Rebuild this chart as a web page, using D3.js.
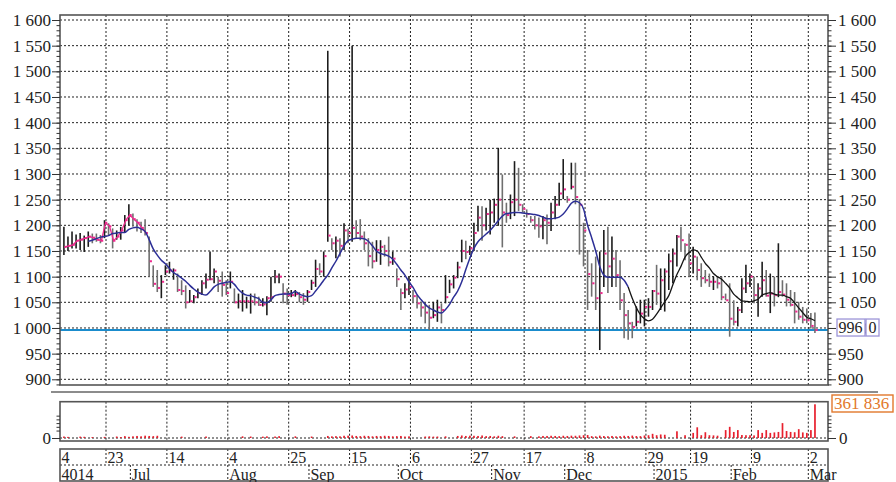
<!DOCTYPE html>
<html><head><meta charset="utf-8">
<script src="https://cdn.jsdelivr.net/npm/d3@7"></script>
<style>
body{margin:0;background:#fff}
text{font-family:"Liberation Serif","Times New Roman",serif;font-size:17px;fill:#222}
</style>
</head><body>
<svg id="c" width="896" height="482"></svg>
<script>
// ---------- DATA ----------
const calStart = "2014-06-04", calEnd = "2015-03-10";
const holidays = ["2014-06-12","2014-11-03","2014-11-04","2014-12-31","2015-01-01","2015-01-02","2015-01-07","2015-02-23"];
const firstIdx = 2;   // first trading-day index with a bar
const high = [
1197,1178,1188,1182,1185,1180,1188,1184,1184,1181,
1210,1204,1194,1190,1197,1220,1241,1223,1212,1207,
1212,1178,1122,1113,1103,1122,1129,1116,1106,1093,
1083,1074,1064,1077,1093,1106,1149,1116,1100,1110,
1093,1110,1077,1067,1074,1061,1067,1067,1061,1058,
1062,1100,1113,1106,1087,1077,1074,1074,1070,1068,
1074,1094,1133,1126,1149,1540,1175,1178,1175,1204,
1194,1550,1210,1212,1188,1175,1168,1171,1171,1162,
1178,1149,1116,1077,1087,1100,1074,1064,1051,1049,
1045,1051,1055,1048,1103,1094,1103,1129,1172,1170,
1160,1205,1238,1237,1234,1250,1252,1351,1299,1244,
1260,1325,1312,1241,1231,1218,1218,1215,1218,1221,
1244,1257,1283,1329,1257,1322,1322,1251,1205,1152,
1126,1139,1149,1191,1197,1178,1152,1132,1068,1035,
1012,1042,1055,1055,1058,1074,1123,1116,1116,1145,
1155,1181,1197,1165,1184,1158,1139,1126,1113,1106,
1100,1100,1100,1067,1087,1054,1041,1097,1123,1106,
1100,1087,1129,1113,1106,1100,1165,1093,1087,1074,
1070,1051,1041,1038,1029,1030];
const low = [
1142,1150,1155,1155,1152,1148,1158,1165,1168,1165,
1175,1180,1155,1172,1172,1185,1200,1197,1188,1185,
1180,1100,1080,1070,1058,1103,1106,1094,1070,1064,
1038,1050,1048,1058,1064,1077,1093,1087,1070,1061,
1064,1077,1048,1038,1032,1038,1028,1044,1043,1042,
1025,1051,1087,1087,1048,1045,1060,1061,1050,1045,
1051,1074,1080,1103,1100,1168,1152,1136,1139,1152,
1165,1168,1175,1171,1152,1120,1116,1129,1123,1139,
1120,1123,1080,1035,1058,1064,1048,1038,1022,1009,
996,1019,1012,1009,1048,1068,1077,1097,1128,1134,
1142,1150,1188,1170,1190,1182,1205,1199,1157,1205,
1212,1218,1228,1225,1215,1205,1192,1176,1173,1163,
1189,1212,1238,1251,1244,1270,1241,1143,1120,1035,
1061,1035,957,1080,1068,1080,1080,1035,980,977,
980,1003,1009,1003,1022,1035,1045,1035,1032,1074,
1087,1120,1152,1132,1100,1106,1093,1080,1087,1080,
1074,1077,1054,1054,983,1005,1003,1029,1068,1080,
1048,1022,1061,1061,1029,1042,1060,1061,1042,1042,
1009,1016,1009,1009,999,990];
const close = [
1158,1160,1162,1170,1172,1175,1178,1176,1172,1170,
1205,1198,1170,1178,1190,1210,1220,1212,1205,1195,
1185,1130,1086,1078,1090,1110,1112,1112,1074,1072,
1050,1052,1060,1068,1087,1094,1095,1110,1092,1084,
1068,1090,1050,1052,1052,1052,1052,1050,1045,1046,
1058,1060,1100,1100,1067,1064,1064,1066,1060,1055,
1070,1088,1115,1110,1140,1180,1165,1170,1160,1190,
1185,1195,1185,1178,1165,1140,1130,1152,1158,1150,
1128,1135,1095,1068,1075,1080,1062,1048,1040,1030,
1020,1025,1040,1035,1060,1085,1098,1118,1150,1148,
1155,1185,1215,1200,1222,1225,1240,1250,1225,1220,
1245,1250,1240,1232,1222,1210,1200,1198,1210,1205,
1225,1240,1262,1270,1250,1275,1255,1240,1190,1105,
1087,1058,1068,1145,1120,1135,1103,1054,1025,1009,
1002,1012,1028,1041,1041,1072,1067,1093,1110,1130,
1145,1178,1171,1162,1126,1139,1113,1097,1093,1090,
1090,1087,1060,1054,1018,1012,1035,1077,1087,1100,
1064,1077,1093,1063,1067,1064,1070,1065,1055,1045,
1032,1022,1016,1015,1004,996];
const maStart = 8;
const movingAvg = [
1169,1171,1174,1177,1178,1180,1184,1185,1186,1186,
1192,1195,1196,1193,1188,1172,1154,1142,1132,1125,
1116,1108,1103,1097,1091,1083,1076,1070,1066,1064,
1071,1080,1085,1087,1089,1090,1085,1075,1068,1064,
1063,1060,1057,1050,1049,1055,1063,1065,1066,1066,
1067,1071,1066,1063,1061,1063,1072,1082,1093,1103,
1117,1130,1145,1160,1170,1173,1175,1175,1174,1169,
1160,1150,1145,1143,1140,1134,1124,1113,1103,1090,
1079,1065,1055,1046,1039,1035,1031,1029,1036,1046,
1060,1072,1090,1114,1136,1155,1168,1176,1183,1190,
1199,1209,1218,1223,1224,1225,1225,1224,1223,1222,
1221,1219,1216,1213,1213,1214,1216,1222,1232,1243,
1247,1244,1232,1200,1176,1150,1120,1103,1099,1099,
1099,1099,1093,1080,1058,1040,1026,1018,1014,1017,
1027,1039,1051,1063,1084,1104,1120,1138,1147,1152,
1150,1138,1126,1117,1106,1100,1095,1087,1078,1066,
1059,1053,1052,1051,1053,1056,1064,1067,1069,1066,
1064,1064,1061,1058,1049,1039,1030,1021,1018,1014];
const maBlueEnd = 141;     // MA drawn blue up to this index, black after
const pinkLineEnd = 22;    // early closes joined by a pink line
const volume = [
16000,12000,0,0,15000,13000,0,10000,0,0,
12000,0,0,16000,10000,20000,13000,18000,22000,18000,
25000,22000,20000,24000,0,0,0,0,0,15000,
0,0,0,0,0,16000,0,0,0,0,
0,0,0,0,18000,0,16000,0,0,15000,
18000,0,16000,20000,0,0,0,18000,0,0,
0,16000,0,0,0,22000,18000,20000,18000,24000,
25000,27000,22000,20000,24000,22000,18000,22000,20000,24000,
22000,18000,20000,22000,16000,18000,0,0,0,16000,
18000,15000,16000,0,18000,0,0,22000,27000,22000,
25000,24000,22000,27000,20000,22000,18000,24000,20000,0,
0,18000,0,0,0,20000,0,18000,22000,22000,
24000,22000,20000,24000,22000,25000,24000,27000,30000,32000,
20000,18000,25000,21000,19000,22000,18000,20000,24000,22000,
26000,21000,20000,27000,30000,45000,30000,38000,35000,0,
0,72000,0,30000,0,55000,115000,30000,62000,30000,
28000,25000,0,85000,120000,65000,85000,32000,30000,30000,
28000,85000,55000,85000,55000,60000,65000,160000,75000,65000,
62000,95000,60000,55000,85000,361836];
const lastPrice = 996;
const sideValue = 0;
const priceTicks = [900,950,1000,1050,1100,1150,1200,1250,1300,1350,1400,1450,1500,1550,1600];
const dayTicks = [["2014-06-23","23"],["2014-07-14","14"],["2014-08-04","4"],["2014-08-25","25"],
  ["2014-09-15","15"],["2014-10-06","6"],["2014-10-27","27"],["2014-11-17","17"],["2014-12-08","8"],
  ["2014-12-29","29"],["2015-01-19","19"],["2015-02-09","9"],["2015-03-02","2"]];
const firstDayLabel = "4";
const firstMonthLabel = "4014";
const monthTicks = [["2014-07-01","Jul"],["2014-08-04","Aug"],["2014-09-01","Sep"],["2014-10-01","Oct"],
  ["2014-11-01","Nov"],["2014-12-01","Dec"],["2015-01-01","2015"],["2015-02-01","Feb"],["2015-03-01","Mar"]];

[high,low,close,volume].forEach(a=>{ if(a.length!==186) throw new Error("len "+a.length); });
if(movingAvg.length!==180) throw new Error("ma len "+movingAvg.length);

// ---------- CALENDAR ----------
const parse = d3.timeParse("%Y-%m-%d"), key = d3.timeFormat("%Y-%m-%d");
const calendar = d3.timeDay.range(parse(calStart), d3.timeDay.offset(parse(calEnd),1))
  .filter(d => d.getDay()!==0 && d.getDay()!==6 && !holidays.includes(key(d)));
const idxOf = s => calendar.findIndex(d => key(d) >= s);

// ---------- SCALES ----------
const L=60, R=828, T=15, B=385;
const x = d3.scaleLinear().domain([idxOf("2014-06-23"), idxOf("2015-03-02")]).range([106, 808.3]);
const bx = i => x(i) - 1.5;
const y = d3.scaleLinear().domain([1600, 900]).range([20, 379.3]);
const VT=401.7, VB=441, V0=438;
const vy = d3.scaleLinear().domain([0, 361836]).range([V0, 404.3]);

const svg = d3.select("#c");
const loc = d3.formatLocale({decimal:".", thousands:"\u00a0", grouping:[3], currency:["",""]});
const fmt = loc.format(",");

svg.append("defs").append("clipPath").attr("id","plot")
  .append("rect").attr("x",L).attr("y",T).attr("width",R-L).attr("height",B-T);

const grid = svg.append("g").attr("stroke","#222").attr("stroke-width",1).attr("stroke-dasharray","2,2");
grid.selectAll(".h").data(priceTicks).join("line")
  .attr("x1",L).attr("x2",R).attr("y1",d=>y(d)).attr("y2",d=>y(d));
const dayIdx = dayTicks.map(d=>[idxOf(d[0]), d[1]]);
grid.selectAll(".v").data(dayIdx).join("line")
  .attr("x1",d=>x(d[0])).attr("x2",d=>x(d[0])).attr("y1",T).attr("y2",B);
grid.selectAll(".vv").data(dayIdx).join("line")
  .attr("x1",d=>x(d[0])).attr("x2",d=>x(d[0])).attr("y1",VT).attr("y2",VB);
grid.append("line").attr("x1",L).attr("x2",R).attr("y1",V0).attr("y2",V0);

// ---------- PRICE PANEL ----------
const plot = svg.append("g").attr("clip-path","url(#plot)");
const idx = d3.range(firstIdx, firstIdx + close.length);
const k = i => i - firstIdx;

plot.append("line").attr("x1",L).attr("x2",R).attr("y1",y(lastPrice)).attr("y2",y(lastPrice))
  .attr("stroke","#1a8ccd").attr("stroke-width",2.2);

plot.selectAll(".bar").data(idx).join("line")
  .attr("x1",i=>bx(i)).attr("x2",i=>bx(i))
  .attr("y1",i=>y(high[k(i)])).attr("y2",i=>y(low[k(i)]))
  .attr("stroke",i=> (i>firstIdx && close[k(i)]<close[k(i)-1]) ? "#6f6f6f" : "#1c1c1c")
  .attr("stroke-width",1.6);

const pinkIdx = idx.filter(i=>i<=pinkLineEnd);
plot.append("path").datum(pinkIdx)
  .attr("d", d3.line().x(i=>bx(i)+1).y(i=>y(close[k(i)])))
  .attr("fill","none").attr("stroke","#ee2a8e").attr("stroke-width",1.3);

plot.selectAll(".cl").data(idx).join("rect")
  .attr("x",i=>bx(i)+0.6).attr("y",i=>y(close[k(i)])-1).attr("width",2.2).attr("height",2)
  .attr("fill","#ee2a8e");

const maIdx = d3.range(maStart, maStart + movingAvg.length);
const maLine = d3.line().x(i=>bx(i)).y(i=>y(movingAvg[i-maStart])).curve(d3.curveMonotoneX);
plot.append("path").datum(maIdx.filter(i=>i>=maBlueEnd))
  .attr("d",maLine).attr("fill","none").attr("stroke","#151515").attr("stroke-width",1.3);
plot.append("path").datum(maIdx.filter(i=>i<=maBlueEnd))
  .attr("d",maLine).attr("fill","none").attr("stroke","#2c2f96").attr("stroke-width",1.5);

svg.append("rect").attr("x",L).attr("y",T).attr("width",R-L).attr("height",B-T)
  .attr("fill","none").attr("stroke","#555").attr("stroke-width",1.6);

// price axes
const minor = d3.range(890, 1610, 10);
const la = svg.append("g").attr("transform",`translate(${L},0)`);
la.call(d3.axisLeft(y).tickValues(minor).tickSize(3.5).tickFormat(""));
la.select(".domain").remove();
const laM = svg.append("g").attr("transform",`translate(${L},0)`);
laM.call(d3.axisLeft(y).tickValues(priceTicks).tickSize(8).tickPadding(1).tickFormat(fmt));
laM.select(".domain").remove();
const ra = svg.append("g").attr("transform",`translate(${R},0)`);
ra.call(d3.axisRight(y).tickValues(minor).tickSize(3.5).tickFormat(""));
ra.select(".domain").remove();
const raM = svg.append("g").attr("transform",`translate(${R},0)`);
raM.call(d3.axisRight(y).tickValues(priceTicks).tickSize(8).tickPadding(2).tickFormat(fmt));
raM.select(".domain").remove();

// last price boxes
const lb = svg.append("g");
lb.append("rect").attr("x",837).attr("y",y(lastPrice)-11).attr("width",28).attr("height",17)
  .attr("fill","#fff").attr("stroke","#9c94d8").attr("stroke-width",1.3);
lb.append("text").attr("x",838.5).attr("y",y(lastPrice)+3).style("font-size","16px").text(fmt(lastPrice));
lb.append("rect").attr("x",866).attr("y",y(lastPrice)-11).attr("width",13).attr("height",17)
  .attr("fill","#fff").attr("stroke","#9c94d8").attr("stroke-width",1.3);
lb.append("text").attr("x",868.5).attr("y",y(lastPrice)+3).style("font-size","16px").text(sideValue);

svg.append("line").attr("x1",51).attr("x2",878).attr("y1",392).attr("y2",392)
  .attr("stroke","#666").attr("stroke-width",1.5);

// ---------- VOLUME PANEL ----------
svg.append("g").selectAll("rect").data(idx.filter(i=>volume[k(i)]>0)).join("rect")
  .attr("x",i=>bx(i)-0.8).attr("width",1.7)
  .attr("y",i=>vy(volume[k(i)])).attr("height",i=>V0-vy(volume[k(i)]))
  .attr("fill","#e8202e");
svg.append("rect").attr("x",L).attr("y",VT).attr("width",R-L).attr("height",VB-VT)
  .attr("fill","none").attr("stroke","#555").attr("stroke-width",1.6);
const vMinor = [80000,120000,160000,200000,240000];
const vla = svg.append("g").attr("transform",`translate(${L},0)`);
vla.call(d3.axisLeft(vy).tickValues(vMinor).tickSize(3.5).tickFormat(""));
const vla0 = svg.append("g").attr("transform",`translate(${L},0)`);
vla0.call(d3.axisLeft(vy).tickValues([0]).tickSize(8).tickPadding(1));
const vra = svg.append("g").attr("transform",`translate(${R},0)`);
vra.call(d3.axisRight(vy).tickValues(vMinor).tickSize(3.5).tickFormat(""));
const vra0 = svg.append("g").attr("transform",`translate(${R},0)`);
vra0.call(d3.axisRight(vy).tickValues([0]).tickSize(8).tickPadding(3));
[vla,vla0,vra,vra0].forEach(g=>g.select(".domain").remove());
svg.selectAll(".tick line").attr("stroke","#333");
svg.selectAll(".tick text").style("font-size","17px").attr("fill","#222")
  .style("font-family",'"Liberation Serif","Times New Roman",serif');

const lastVol = volume[volume.length-1];
svg.append("rect").attr("x",832).attr("y",395).attr("width",61).attr("height",17)
  .attr("fill","#fff").attr("stroke","#e2782c").attr("stroke-width",1.4);
svg.append("text").attr("x",834).attr("y",409).style("fill","#e2782c").text(fmt(lastVol));

// ---------- DATE AXIS ----------
const DT=449, DM=465, DB=481;
const dg = svg.append("g").attr("stroke","#222").attr("stroke-width",1).attr("stroke-dasharray","2,2");
dg.append("line").attr("x1",L).attr("x2",R).attr("y1",DM).attr("y2",DM);
dg.selectAll(".d").data(dayIdx).join("line")
  .attr("x1",d=>x(d[0])).attr("x2",d=>x(d[0])).attr("y1",DT).attr("y2",DM);
const monIdx = monthTicks.map(d=>[idxOf(d[0]), d[1]]);
dg.selectAll(".m").data(monIdx).join("line")
  .attr("x1",d=>x(d[0])).attr("x2",d=>x(d[0])).attr("y1",DM).attr("y2",DB);
svg.append("rect").attr("x",L).attr("y",DT).attr("width",R-L).attr("height",DB-DT)
  .attr("fill","none").attr("stroke","#555").attr("stroke-width",1.6);
const tg = svg.append("g").style("font-size","16px");
tg.append("text").attr("x",L+1.5).attr("y",DM-2).style("font-size","16px").text(firstDayLabel);
tg.selectAll(".dl").data(dayIdx).join("text").attr("x",d=>x(d[0])+1.5).attr("y",DM-2).style("font-size","16px").text(d=>d[1]);
tg.append("text").attr("x",L+1.5).attr("y",DB-1.5).style("font-size","16px").text(firstMonthLabel);
tg.selectAll(".ml").data(monIdx).join("text").attr("x",d=>x(d[0])+1.5).attr("y",DB-1.5).style("font-size","16px").text(d=>d[1]);
</script>
</body></html>
